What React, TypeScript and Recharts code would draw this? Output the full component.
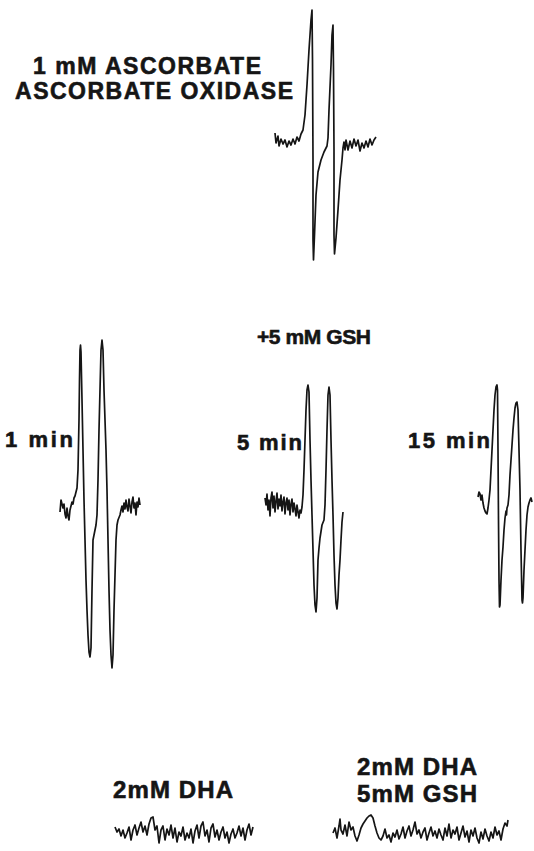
import React from "react";
import { LineChart, Line, XAxis, YAxis } from "recharts";

// ESR spectra: field offset (arbitrary units) vs. first-derivative signal (arbitrary units, baseline = 0)
type Pt = [number, number];

const ascorbateTrace: Pt[] = [
  [5, 5], [6, -5], [8, 2], [9, -8], [11, -1], [13, -6], [15, -2], [17, -9], [19, -3], [21, -7],
  [23, -1], [25, -6], [27, 1], [29, -3], [31, 4], [33, 8], [35, 23], [37, 53], [39, 88], [41, 118],
  [42, 128], [42.5, 78], [43, -22], [43, -102], [43.5, -122], [44.5, -97], [46, -57], [48, -34],
  [51, -22], [54, -14], [57, -8], [58, 0], [59, 28], [61, 73], [62, 103], [63, 113], [63.5, 68],
  [64, -12], [64, -97], [64.5, -116], [66, -100], [68, -72], [70, -42], [72, -22], [73, -10],
  [74, -4], [75, -12], [76, -2], [78, -12], [80, -3], [82, -10], [84, -1], [86, -8], [88, -2],
  [90, -13], [92, -5], [94, -10], [96, -3], [98, -9], [100, -1], [102, -7], [104, -2], [106, 1],
];

const gsh1minTrace: Pt[] = [
  [5, -2], [6, 10], [8, 2], [9, 6], [10, -4], [11, -8], [12, 2], [13, -6], [14, -10], [15, 0],
  [16, 4], [17, 8], [18, 6], [19, 12], [20, 14], [21, 18], [22, 22], [23, 40], [24, 90],
  [24.5, 130], [25, 160], [25.5, 165], [26, 158], [27, 110], [28, 60], [29, 10], [30, -30],
  [31, -70], [32, -100], [33, -125], [34, -142], [35, -147], [36, -138], [37, -80], [38, -30],
  [39, -25], [41, -15], [42, -5], [43, 30], [44, 80], [45, 120], [46, 160], [47, 170], [48, 160],
  [49, 120], [51, 60], [52, 20], [53, -30], [54, -80], [55, -120], [56, -145], [57, -158],
  [58, -145], [59, -100], [60, -65], [61, -30], [62, -15], [63, -10], [65, -5], [66, 0], [67, 4],
  [68, -2], [69, 7], [70, 1], [71, 10], [72, 3], [73, -1], [74, 11], [75, 4], [76, -3], [77, 8],
  [78, 13], [79, 2], [80, 7], [81, -5], [82, 8], [83, 3], [84, 12], [85, 5],
];

const gsh5minTrace: Pt[] = [
  [5, 7], [6, 0], [7, 11], [8, -5], [9, 5], [10, -11], [11, 7], [12, 13], [13, -3], [14, 9],
  [15, -7], [16, 4], [17, 12], [18, -4], [19, 6], [20, -1], [21, 10], [22, -6], [23, 3], [24, 8],
  [25, -9], [26, 2], [27, 7], [28, -5], [29, 5], [30, -10], [31, 1], [32, 6], [33, -7], [34, 2],
  [35, -4], [36, -11], [37, 0], [38, -7], [39, -13], [40, -5], [41, -8], [42, -2], [43, 10],
  [44, 35], [45, 65], [46, 95], [47, 115], [48, 120], [49, 113], [50, 65], [51, 25], [52, -10],
  [53, -45], [54, -80], [55, -100], [56, -107], [57, -93], [58, -55], [59, -43], [60, -33],
  [62, -20], [64, -15], [65, 0], [66, 35], [67, 75], [68, 110], [69, 118], [70, 110], [71, 65],
  [72, 25], [73, -10], [74, -50], [75, -80], [76, -98], [77, -104], [78, -93], [79, -70],
  [80, -55], [81, -35], [82, -17], [83, -7],
];

const gsh15minTrace: Pt[] = [
  [8, 8], [9, 13], [10, 11], [11, 5], [12, 10], [13, 2], [14, -3], [15, -6], [16, -8], [17, -9],
  [18, -3], [19, 5], [20, 15], [21, 35], [22, 55], [23, 75], [24, 95], [25, 110], [26, 118],
  [27, 120], [27.5, 115], [28, 55], [28.5, -15], [29, -75], [29.5, -102], [30, -100], [31, -75],
  [32, -55], [33, -42], [34, -25], [35, -13], [36, -6], [36.5, -10], [37, -3], [38, 0], [39, 10],
  [40, 30], [41, 45], [42, 60], [43, 75], [44, 87], [45, 97], [46, 102], [47, 103], [48, 95],
  [49, 55], [50, 15], [51, -45], [52, -95], [52.5, -98], [53, -93], [54, -65], [55, -45],
  [56, -25], [57, -10], [58, -2], [59, 2], [60, 5], [61, 7], [62, 3],
];

const dhaTrace: Pt[] = [
  [5, 5], [7, 0], [9, 3], [11, -4], [13, 2], [15, -6], [17, -1], [19, 5], [21, -8], [23, 2],
  [25, 7], [27, -3], [29, 4], [31, 10], [33, 0], [35, 6], [37, -3], [39, 8], [41, 14], [43, 15],
  [45, 2], [47, 6], [49, -11], [51, 2], [53, 6], [55, -8], [57, 3], [59, -3], [61, 7], [63, -6],
  [65, 4], [67, -10], [69, 0], [71, -4], [73, 5], [75, -8], [77, -1], [79, -6], [81, 3], [83, -11],
  [85, 1], [87, 7], [89, -6], [91, 6], [93, 10], [95, -4], [97, 2], [99, -10], [101, 4], [103, 8],
  [105, -5], [107, 2], [109, -8], [111, 0], [113, 5], [115, -6], [117, 0], [119, -11], [121, -2],
  [123, 3], [125, -6], [127, -1], [129, 6], [131, -4], [133, 4], [135, -8], [137, 2], [139, 8],
  [141, -3], [143, 5],
];

const dhaGshTrace: Pt[] = [
  [8, -1], [10, 4], [12, -6], [14, 6], [15, 13], [16, 2], [18, -2], [20, 7], [22, -4], [24, 10],
  [26, 2], [28, 5], [30, -4], [32, -9], [34, -3], [36, 4], [38, 8], [40, 11], [42, 14], [44, 16],
  [46, 17], [48, 14], [50, 6], [52, -1], [54, -6], [56, -8], [58, -4], [60, 3], [62, -6], [64, -3],
  [66, -10], [68, -1], [70, -5], [72, 2], [74, -7], [76, -2], [78, 5], [80, -6], [82, 1], [84, 6],
  [86, -4], [88, 2], [90, 10], [92, -2], [94, 2], [96, -6], [98, 0], [100, 4], [102, -8], [104, -1],
  [106, 5], [108, -4], [110, 1], [112, -6], [114, 3], [116, -3], [118, -8], [120, 4], [122, -4],
  [124, 8], [126, -6], [128, 2], [130, -2], [132, 5], [134, -8], [136, -1], [138, 6], [140, -5],
  [142, 1], [144, -10], [146, 2], [148, -4], [150, 4], [152, -6], [154, -11], [156, 0], [158, -7],
  [160, 3], [162, -4], [164, -9], [166, 0], [168, -6], [170, 5], [172, -3], [174, 1], [176, -8],
  [178, 3], [180, 9], [182, 6], [183, 12],
];

type Panel = {
  key: string;
  trace: Pt[];
  left: number;
  top: number;
  width: number;
  height: number;
  fieldMax: number;
  signalMin: number;
  signalMax: number;
};

const panels: Panel[] = [
  { key: "asc", trace: ascorbateTrace, left: 270, top: 0, width: 115, height: 275, fieldMax: 115, signalMin: -137, signalMax: 138 },
  { key: "m1", trace: gsh1minTrace, left: 55, top: 330, width: 90, height: 350, fieldMax: 90, signalMin: -170, signalMax: 180 },
  { key: "m5", trace: gsh5minTrace, left: 260, top: 370, width: 90, height: 260, fieldMax: 90, signalMin: -125, signalMax: 135 },
  { key: "m15", trace: gsh15minTrace, left: 470, top: 370, width: 64, height: 260, fieldMax: 64, signalMin: -125, signalMax: 135 },
  { key: "dha", trace: dhaTrace, left: 110, top: 805, width: 150, height: 45, fieldMax: 150, signalMin: -18, signalMax: 27 },
  { key: "dhagsh", trace: dhaGshTrace, left: 325, top: 800, width: 190, height: 50, fieldMax: 190, signalMin: -18, signalMax: 32 },
];

type Label = { text: string; x: number; y: number; size: number; length: number };

const labels: Label[] = [
  { text: "1 mM ASCORBATE", x: 33, y: 74, size: 23, length: 228 },
  { text: "ASCORBATE OXIDASE", x: 15, y: 99, size: 23, length: 278 },
  { text: "+5 mM GSH", x: 257, y: 344, size: 21, length: 114 },
  { text: "1 min", x: 5, y: 447, size: 22, length: 68 },
  { text: "5 min", x: 237, y: 450, size: 22, length: 65 },
  { text: "15 min", x: 408, y: 448, size: 22, length: 82 },
  { text: "2mM DHA", x: 113, y: 798, size: 24, length: 120 },
  { text: "2mM DHA", x: 357, y: 775, size: 24, length: 120 },
  { text: "5mM GSH", x: 357, y: 802, size: 24, length: 120 },
];

const INK = "#151515";

function Spectrum({ p }: { p: Panel }) {
  const data = p.trace.map(([field, signal]) => ({ field, signal }));
  return (
    <div style={{ position: "absolute", left: p.left, top: p.top }}>
      <LineChart width={p.width} height={p.height} data={data} margin={{ top: 0, right: 0, bottom: 0, left: 0 }}>
        <XAxis type="number" dataKey="field" domain={[0, p.fieldMax]} hide allowDataOverflow />
        <YAxis type="number" domain={[p.signalMin, p.signalMax]} hide allowDataOverflow />
        <Line
          type="linear"
          dataKey="signal"
          stroke={INK}
          strokeWidth={1.7}
          dot={false}
          activeDot={false}
          isAnimationActive={false}
          strokeLinejoin="round"
        />
      </LineChart>
    </div>
  );
}

export default function App() {
  return (
    <div style={{ position: "absolute", left: 0, top: 0, width: 534, height: 851, background: "#ffffff", overflow: "hidden" }}>
      {panels.map((p) => (
        <Spectrum key={p.key} p={p} />
      ))}
      <svg width={534} height={851} style={{ position: "absolute", left: 0, top: 0, pointerEvents: "none" }}>
        {labels.map((l, i) => (
          <text
            key={i}
            x={l.x}
            y={l.y}
            fontFamily="'Liberation Sans', Arial, Helvetica, sans-serif"
            fontWeight="bold"
            fontSize={l.size}
            fill={INK}
            stroke={INK}
            strokeWidth={0.6}
            textLength={l.length}
            lengthAdjust="spacing"
          >
            {l.text}
          </text>
        ))}
      </svg>
    </div>
  );
}
